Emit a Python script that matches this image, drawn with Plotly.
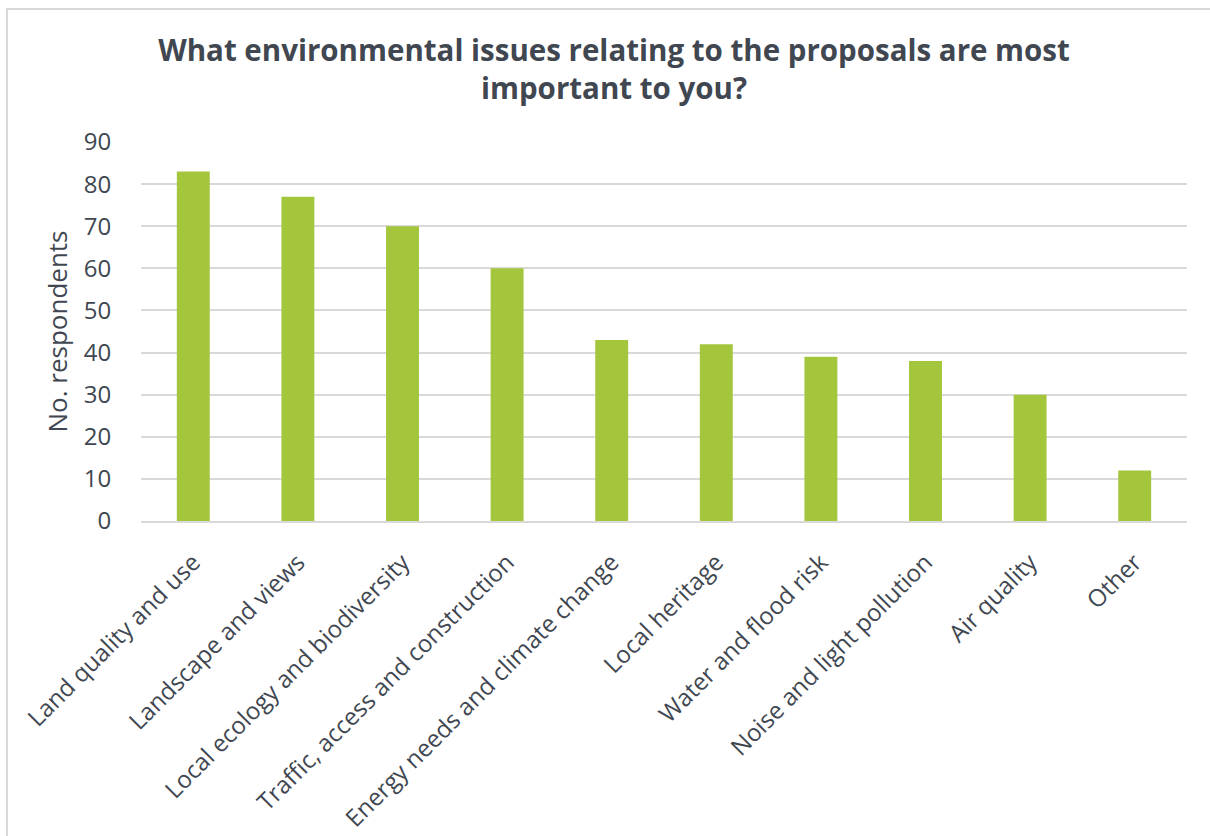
import plotly.graph_objects as go

categories = ["Land quality and use", "Landscape and views", "Local ecology and biodiversity",
              "Traffic, access and construction", "Energy needs and climate change",
              "Local heritage", "Water and flood risk", "Noise and light pollution",
              "Air quality", "Other"]
values = [83, 77, 70, 60, 43, 42, 39, 38, 30, 12]
y_ticks = [0, 10, 20, 30, 40, 50, 60, 70, 80, 90]

TEXT = "#404751"
FONT = "Open Sans"

fig = go.Figure(go.Bar(x=categories, y=values, marker=dict(color="#a3c63c", line=dict(width=0))))

L, R, T, B = 141, 23, 142, 315
W, H = 1210, 836
pw, ph = W - L - R, H - T - B

fig.update_layout(
    width=W, height=H,
    margin=dict(l=L, r=R, t=T, b=B, autoexpand=False),
    paper_bgcolor="white", plot_bgcolor="white",
    bargap=0.685,
    font=dict(family=FONT, color=TEXT),
    title=dict(text="<b>What environmental issues relating to the proposals are most<br>important to you?</b>",
               x=614 / W, xanchor="center", y=1 - 61 / H, yanchor="middle",
               font=dict(size=29.5, color=TEXT, family=FONT)),
    showlegend=False,
)
fig.update_yaxes(range=[0, 90], tickvals=y_ticks, showgrid=True, gridcolor="#d9d9d9", gridwidth=1.5,
                 zeroline=False, showline=False, automargin=False,
                 ticks="outside", ticklen=24, tickcolor="rgba(0,0,0,0)",
                 tickfont=dict(size=24, color=TEXT),
                 title=dict(text="No. respondents", font=dict(size=26, color=TEXT), standoff=8))
fig.update_xaxes(showline=True, linecolor="#d9d9d9", linewidth=1.5, showgrid=False, automargin=False,
                 tickangle=-45, ticks="outside", ticklen=16, tickcolor="rgba(0,0,0,0)",
                 tickfont=dict(size=24, color=TEXT))

# outer chart border
fig.add_shape(type="rect", xref="paper", yref="paper",
              x0=(7 - L) / pw, x1=(W + 20 - L) / pw,
              y0=-(H + 20 - (H - B)) / ph, y1=((H - B) - 9) / ph,
              line=dict(color="#d9d9d9", width=2), fillcolor="rgba(0,0,0,0)", layer="below")

fig.write_html("out.html")
